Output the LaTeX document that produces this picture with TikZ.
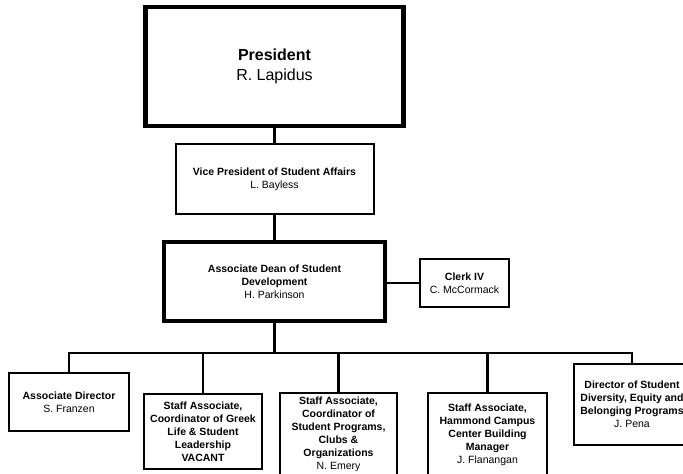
\documentclass[tikz,border=0pt]{standalone}
\usepackage{fontspec}
\setmainfont{Liberation Sans}
\begin{document}
\begin{tikzpicture}[x=1pt,y=1pt,
  box/.style={draw=black, fill=white, rectangle, inner sep=0pt, align=center,
    font=\fontsize{10.5}{13}\selectfont\bfseries},
  thinbox/.style={box, line width=2pt},
  thickbox/.style={box, line width=4.2pt},
  link/.style={draw=black, line width=2.2pt}]
\useasboundingbox (0,0) rectangle (683,-474);
\clip (0,0) rectangle (683,-474);
\fill[white] (0,0) rectangle (683,-474);

% top of the chart
\node[box, line width=4.5pt, minimum width=258pt, minimum height=119pt,
      font=\fontsize{16}{20}\selectfont\bfseries]
  (pres) at (274.5,-66.5) {President\\\mdseries R. Lapidus};
\node[thinbox, minimum width=198pt, minimum height=70pt]
  (vp) at (274.5,-179) {Vice President of Student Affairs\\\mdseries L. Bayless};
\node[thickbox, minimum width=221pt, minimum height=79pt]
  (dean) at (274.5,-281.5) {Associate Dean of Student\\Development\\\mdseries H. Parkinson};
\node[thinbox, minimum width=89pt, minimum height=48pt]
  (clerk) at (464.5,-283) {Clerk IV\\\mdseries C. McCormack};

% staff reporting to the dean
\node[thinbox, minimum width=120pt, minimum height=58pt]
  (assoc) at (69,-402) {Associate Director\\\mdseries S. Franzen};
\node[thinbox, minimum width=118pt, minimum height=75pt]
  (greek) at (203,-431.5) {Staff Associate,\\Coordinator of Greek\\Life \& Student\\Leadership\\VACANT};
\node[thinbox, minimum width=117pt, minimum height=83pt]
  (clubs) at (338.5,-434.5) {Staff Associate,\\Coordinator of\\Student Programs,\\Clubs \&\\Organizations\\\mdseries N. Emery};
\node[thinbox, minimum width=119pt, minimum height=83pt]
  (hcc) at (487.5,-434.5) {Staff Associate,\\Hammond Campus\\Center Building\\Manager\\\mdseries J. Flanangan};
\node[thinbox, minimum width=116pt, minimum height=81pt]
  (dei) at (632,-404.5) {Director of Student\\Diversity, Equity and\\Belonging Programs\\\mdseries J. Pena};

% reporting lines
\coordinate (bus) at (274.5,-353);
\draw[link] (pres.south) -- (vp.north);
\draw[link] (vp.south) -- (dean.north);
\draw[link] (clerk.west) -- (clerk.west -| dean.east);
\draw[link] (dean.south) -- (bus);
\draw[link] (assoc.north) -- (assoc.north |- bus) -- (dei.north |- bus) -- (dei.north);
\draw[link] (greek.north) -- (greek.north |- bus);
\draw[link] (clubs.north) -- (clubs.north |- bus);
\draw[link] (hcc.north) -- (hcc.north |- bus);
\end{tikzpicture}
\end{document}
